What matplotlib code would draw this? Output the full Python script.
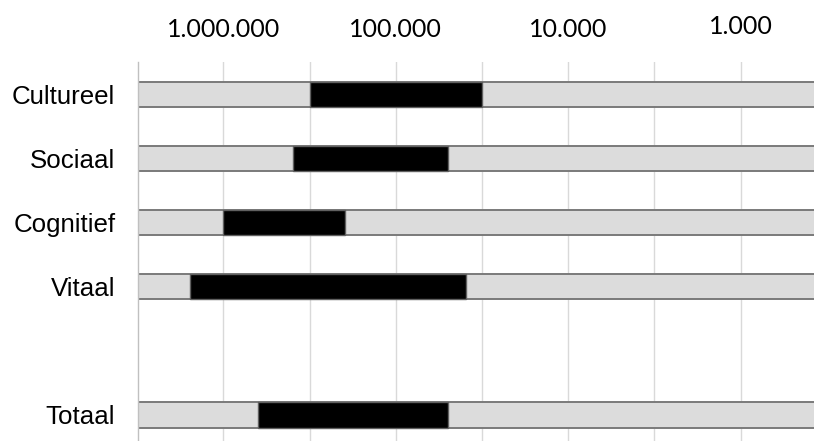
import matplotlib
matplotlib.use("Agg")
import matplotlib.pyplot as plt
import matplotlib.transforms as mtransforms
from matplotlib.ticker import FixedLocator, NullFormatter

# ---- data ----
categories = ["Cultureel", "Sociaal", "Cognitief", "Vitaal", "Totaal"]
range_high = [316000, 395000, 1000000, 1570000, 630000]
range_low = [31600, 49600, 197000, 39400, 49600]
tick_values = [1e6, 1e5, 1e4, 1e3]
tick_labels = ["1.000.000", "100.000", "10.000", "1.000"]
minor_values = [316228, 31623, 3162]

# ---- layout ----
row_pos = [0, 1, 2, 3, 5]
X_LEFT, X_RIGHT = 3.15e6, 375
bar_h = 0.40

fig = plt.figure(figsize=(8.14, 4.41), dpi=100)
ax = fig.add_axes([0.169, 0.0, 0.831, 0.8594])
ax.set_xscale("log")
ax.set_xlim(X_LEFT, X_RIGHT)
ax.set_ylim(5.41, -0.506)

# background full-range grey bars
for y in row_pos:
    ax.barh(y, 5e6 - 200, left=200, height=bar_h, color="#dcdcdc",
            edgecolor="#7a7a7a", linewidth=1.4, zorder=2)
# black ranges
for y, lo, hi in zip(row_pos, range_low, range_high):
    ax.barh(y, hi - lo, left=lo, height=bar_h, color="black",
            edgecolor="#606060", linewidth=1.0, zorder=3)

ax.xaxis.set_major_locator(FixedLocator(tick_values))
ax.xaxis.set_minor_locator(FixedLocator(minor_values))
ax.xaxis.set_minor_formatter(NullFormatter())
ax.set_xticklabels(tick_labels, fontfamily="Lato", fontsize=18)
ax.xaxis.set_ticks_position("top")
ax.tick_params(axis="x", which="both", length=0, pad=15)
ax.grid(True, axis="x", which="both", color="#d9d9d9", linewidth=1.0, zorder=0)
ax.set_axisbelow(True)

ax.set_yticks(row_pos)
ax.set_yticklabels(categories, fontfamily="Liberation Sans", fontsize=18.6)
ax.tick_params(axis="y", length=0, pad=16)

for s in ["top", "right", "bottom"]:
    ax.spines[s].set_visible(False)
ax.spines["left"].set_color("#c0c0c0")
ax.spines["left"].set_linewidth(1.0)

# last label sits slightly higher in the reference
lbl = ax.xaxis.get_majorticklabels()[-1]
lbl.set_transform(lbl.get_transform() +
                  mtransforms.ScaledTranslation(0, 3 / 100, fig.dpi_scale_trans))

fig.savefig("out.png", dpi=100)
